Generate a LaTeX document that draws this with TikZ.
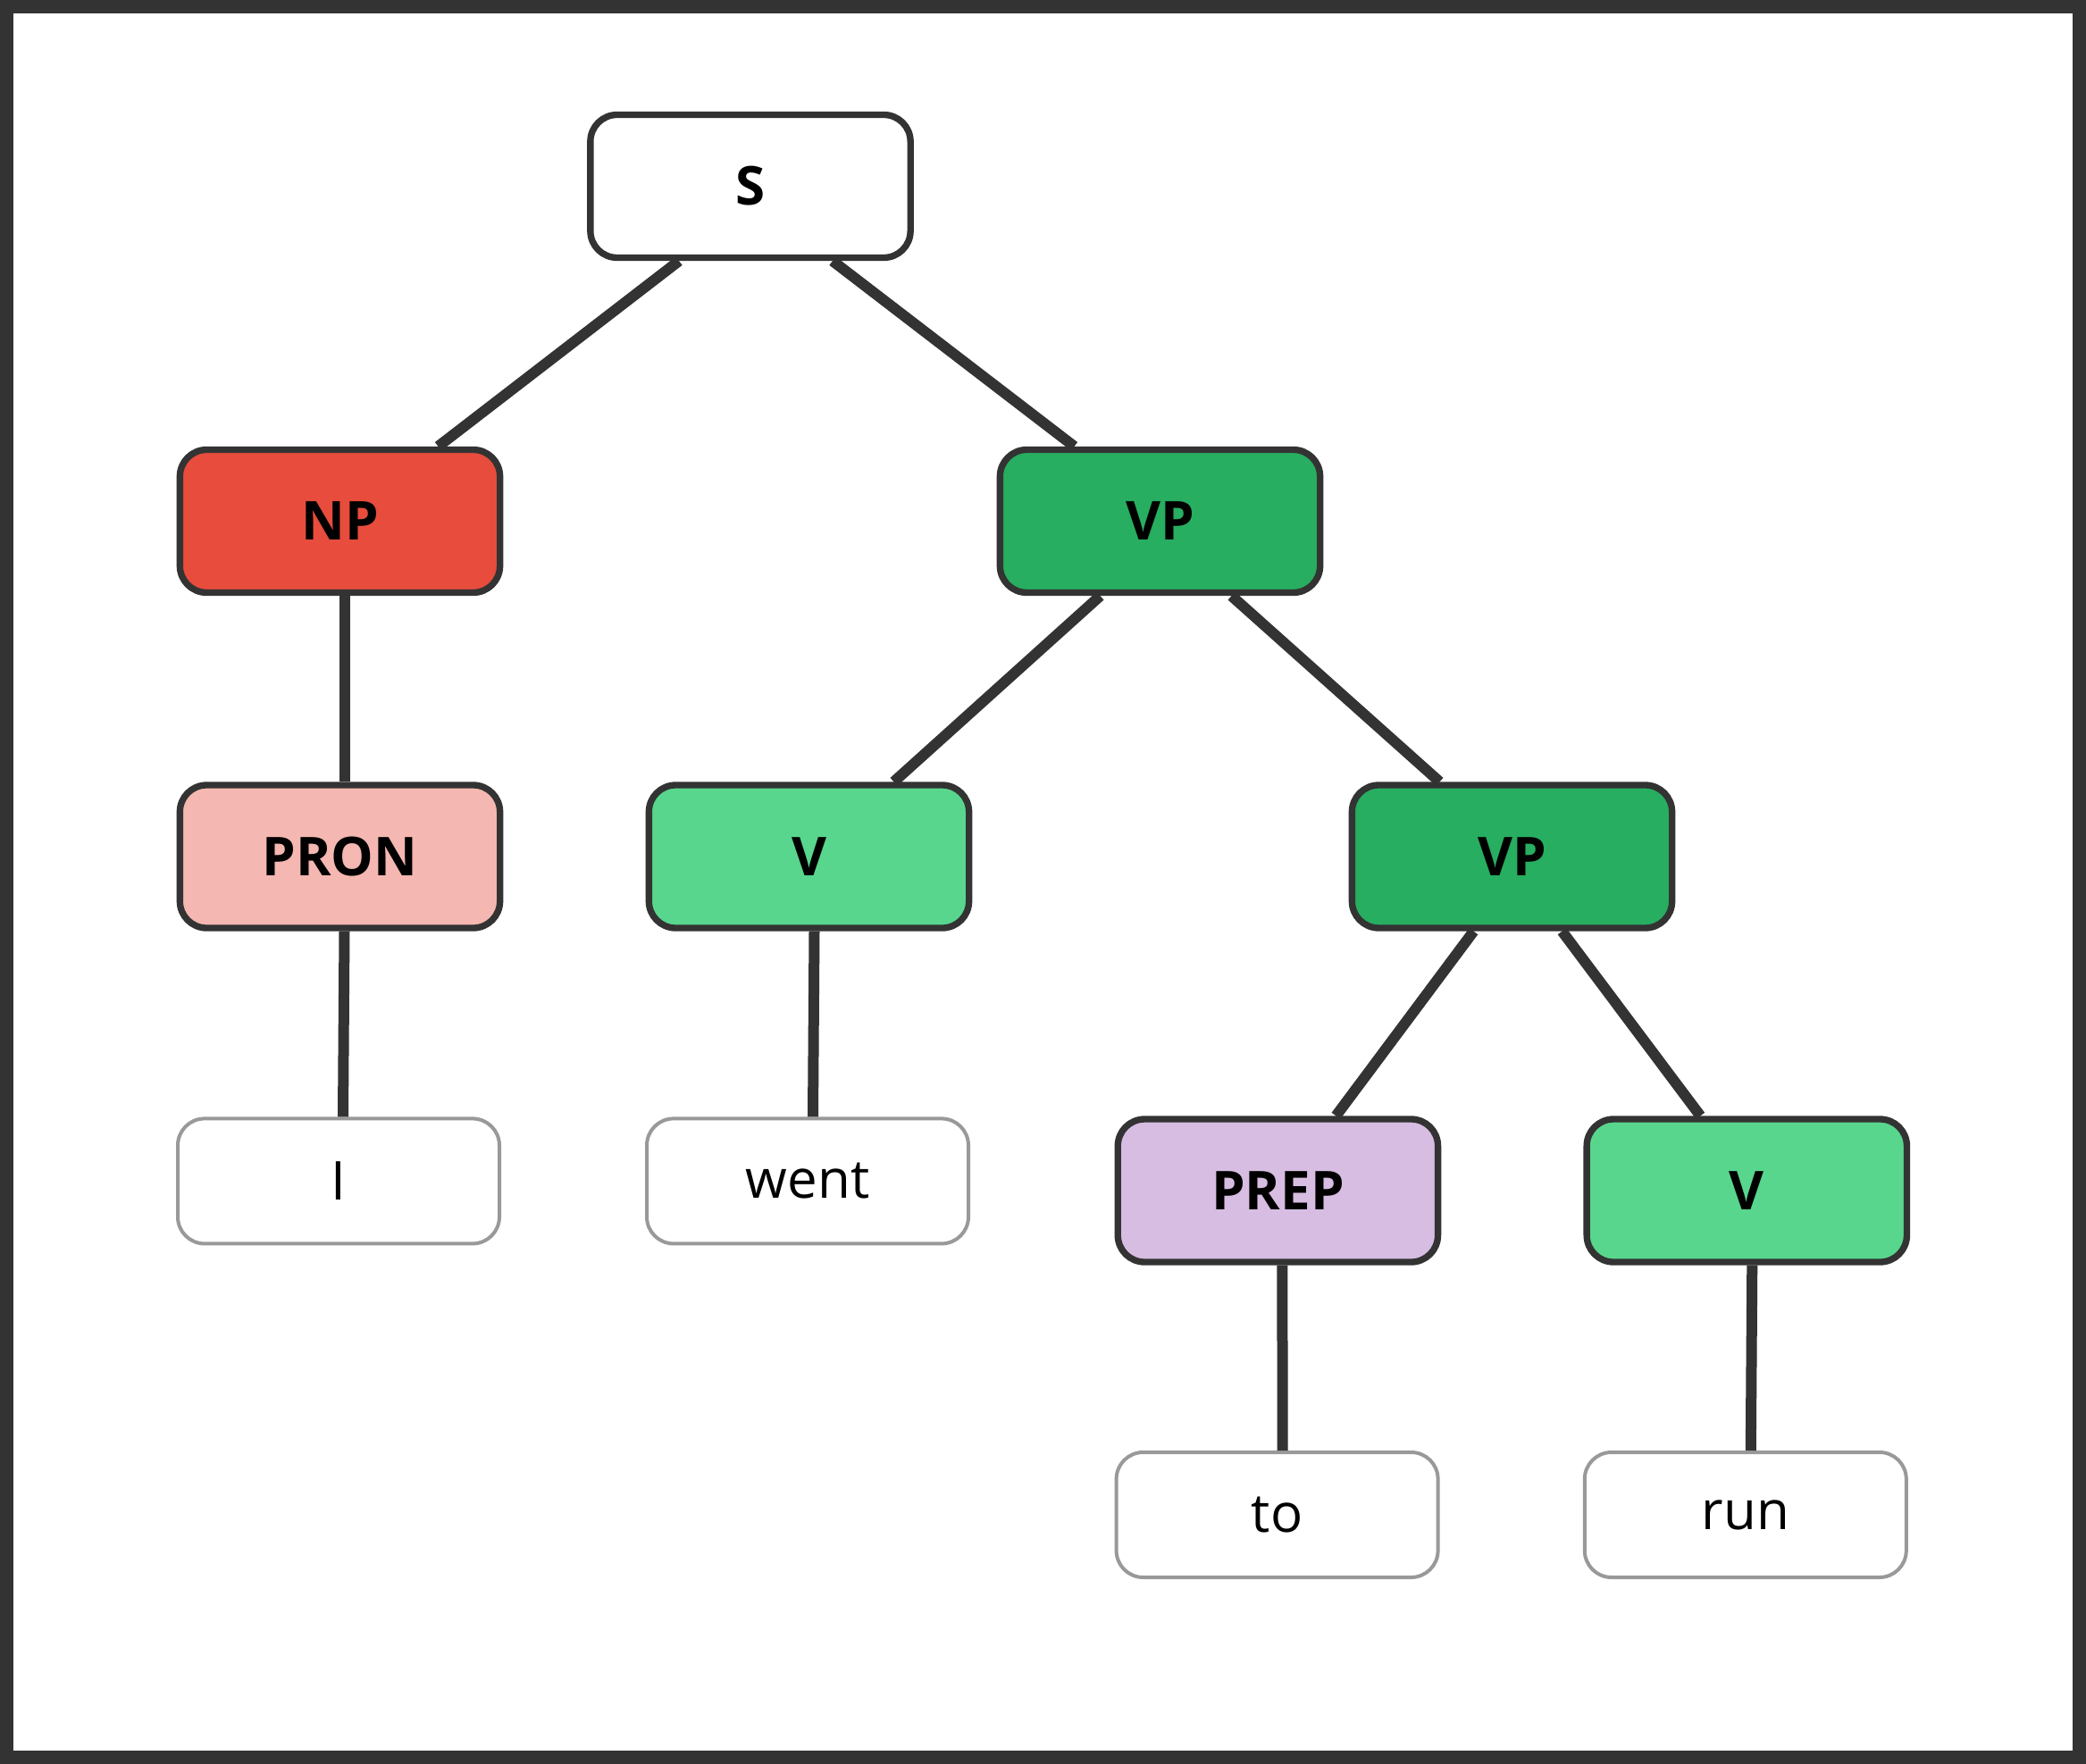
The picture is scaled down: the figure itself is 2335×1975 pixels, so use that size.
\documentclass[tikz,border=0pt]{standalone}
\usepackage{fontspec}
\setmainfont{Open Sans}
\usetikzlibrary{calc}
\definecolor{dk}{HTML}{333333}
\definecolor{gr}{HTML}{999999}
\definecolor{npred}{HTML}{E74C3C}
\definecolor{vpgreen}{HTML}{27AE60}
\definecolor{pronpink}{HTML}{F5B7B1}
\definecolor{vlight}{HTML}{58D68D}
\definecolor{preppurple}{HTML}{D7BDE2}
\begin{document}
\begin{tikzpicture}[x=0.3pt,y=-0.3pt,
  phrase/.style={draw=dk, line width=2.2pt, rounded corners=9pt, minimum width=107.5pt, minimum height=48pt, inner sep=0pt, font=\fontsize{18}{20}\selectfont\bfseries},
  word/.style={draw=gr, fill=white, line width=1.2pt, rounded corners=9pt, minimum width=108pt, minimum height=42pt, inner sep=0pt, font=\fontsize{18}{20}\selectfont},
  edge/.style={draw=dk, line width=3.6pt}]
\useasboundingbox (0,0) rectangle (2335,1975);
\fill[white] (0,0) rectangle (2335,1975);
\draw[line width=4.5pt, dk] (7.5,7.5) rectangle (2327.5,1967.5);
% nodes
\node[phrase, fill=white] (S) at (840,208.5) {S};
\node[phrase, fill=npred] (NP) at (380.5,583.5) {NP};
\node[phrase, fill=vpgreen] (VP1) at (1298.5,583.5) {VP};
\node[phrase, fill=pronpink] (PRON) at (380.5,959) {PRON};
\node[phrase, fill=vlight] (V1) at (905.5,959) {V};
\node[phrase, fill=vpgreen] (VP2) at (1692.5,959) {VP};
\node[word] (I) at (379,1322.4) {I};
\node[word] (went) at (904,1322.4) {went};
\node[phrase, fill=preppurple] (PREP) at (1430.4,1333) {PREP};
\node[phrase, fill=vlight] (V2) at (1955.3,1333) {V};
\node[word] (to) at (1429.6,1696) {to};
\node[word] (run) at (1953.8,1696) {run};
% edges
\draw[edge] ($(S.south)+(-80,0)$) -- ($(NP.north)+(110,0)$);
\draw[edge] ($(S.south)+(92,0)$) -- ($(VP1.north)+(-96,0)$);
\draw[edge] ($(NP.south)+(5,0)$) -- ($(PRON.north)+(5,0)$);
\draw[edge] ($(PRON.south)+(5,0)$) -- ($(I.north)+(5,0)$);
\draw[edge] ($(VP1.south)+(-67,0)$) -- ($(V1.north)+(95,0)$);
\draw[edge] ($(VP1.south)+(80,0)$) -- ($(VP2.north)+(-81,0)$);
\draw[edge] ($(V1.south)+(6,0)$) -- ($(went.north)+(6,0)$);
\draw[edge] ($(VP2.south)+(-43,0)$) -- ($(PREP.north)+(65,0)$);
\draw[edge] ($(VP2.south)+(56,0)$) -- ($(V2.north)+(-52,0)$);
\draw[edge] ($(PREP.south)+(5,0)$) -- ($(to.north)+(6,0)$);
\draw[edge] ($(V2.south)+(6,0)$) -- ($(run.north)+(6,0)$);
\end{tikzpicture}
\end{document}
